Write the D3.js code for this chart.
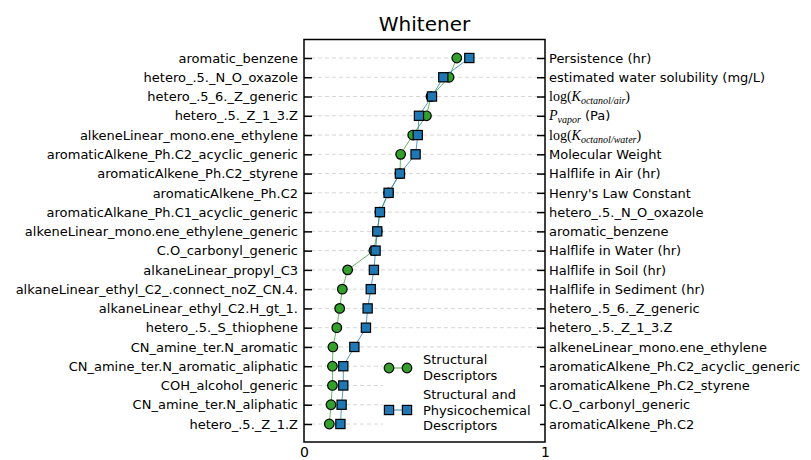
<!DOCTYPE html>
<html>
<head>
<meta charset="utf-8">
<script src="https://cdn.jsdelivr.net/npm/d3@7"></script>
<style>
  body { margin: 0; background: #fff; }
  svg { font-family: "DejaVu Sans", sans-serif; }
</style>
</head>
<body>
<script>
// Подписи слева (дескрипторы), сверху вниз
var leftLabels = [
	"aromatic_benzene",
	"hetero_.5._N_O_oxazole",
	"hetero_.5_6._Z_generic",
	"hetero_.5._Z_1_3.Z",
	"alkeneLinear_mono.ene_ethylene",
	"aromaticAlkene_Ph.C2_acyclic_generic",
	"aromaticAlkene_Ph.C2_styrene",
	"aromaticAlkene_Ph.C2",
	"aromaticAlkane_Ph.C1_acyclic_generic",
	"alkeneLinear_mono.ene_ethylene_generic",
	"C.O_carbonyl_generic",
	"alkaneLinear_propyl_C3",
	"alkaneLinear_ethyl_C2_.connect_noZ_CN.4.",
	"alkaneLinear_ethyl_C2.H_gt_1.",
	"hetero_.5._S_thiophene",
	"CN_amine_ter.N_aromatic",
	"CN_amine_ter.N_aromatic_aliphatic",
	"COH_alcohol_generic",
	"CN_amine_ter.N_aliphatic",
	"hetero_.5._Z_1.Z"
];

// Подписи справа
var rightLabels = [
	"Persistence (hr)",
	"estimated water solubility (mg/L)",
	"logKoa",
	"Pvapor",
	"logKow",
	"Molecular Weight",
	"Halflife in Air (hr)",
	"Henry's Law Constant",
	"hetero_.5._N_O_oxazole",
	"aromatic_benzene",
	"Halflife in Water (hr)",
	"Halflife in Soil (hr)",
	"Halflife in Sediment (hr)",
	"hetero_.5_6._Z_generic",
	"hetero_.5._Z_1_3.Z",
	"alkeneLinear_mono.ene_ethylene",
	"aromaticAlkene_Ph.C2_acyclic_generic",
	"aromaticAlkene_Ph.C2_styrene",
	"C.O_carbonyl_generic",
	"aromaticAlkene_Ph.C2"
];

// Значения
var structural = [0.634, 0.602, 0.527, 0.508, 0.451, 0.401, 0.398, 0.351, 0.315, 0.304,
	0.290, 0.181, 0.159, 0.148, 0.136, 0.120, 0.118, 0.118, 0.112, 0.105];
var physchem = [0.686, 0.578, 0.531, 0.477, 0.472, 0.463, 0.398, 0.351, 0.315, 0.304,
	0.297, 0.290, 0.277, 0.264, 0.257, 0.209, 0.163, 0.163, 0.156, 0.151];

var xTicks = [0, 1];

var green = "#33a02c", blue = "#1f78b4";

var svg = d3.select("body").append("svg")
	.attr("width", 811).attr("height", 460);

var axLeft = 304, axRight = 545, axTop = 39.5, axBottom = 442;

var x = d3.scaleLinear().domain([0, 1]).range([axLeft, axRight]);
var y = d3.scaleLinear().domain([0, leftLabels.length - 1]).range([58, 424]);
var idx = d3.range(leftLabels.length);

// Заголовок
svg.append("text")
	.attr("x", (axLeft + axRight) / 2).attr("y", 31)
	.attr("text-anchor", "middle")
	.attr("font-size", 20)
	.text("Whitener");

// Сетка
svg.append("g").selectAll("line")
	.data(idx)
	.join("line")
	.attr("x1", axLeft).attr("x2", axRight)
	.attr("y1", d => y(d)).attr("y2", d => y(d))
	.attr("stroke", "#d6d6d6")
	.attr("stroke-width", 1)
	.attr("stroke-dasharray", "4,3");

// Левая ось
var axL = svg.append("g")
	.attr("transform", "translate(" + axLeft + ",0)")
	.call(d3.axisLeft(y).tickValues(idx).tickFormat(i => leftLabels[i]).tickSize(-8).tickPadding(6));

// Правая ось
var axR = svg.append("g")
	.attr("transform", "translate(" + axRight + ",0)")
	.call(d3.axisRight(y).tickValues(idx).tickFormat(i => rightLabels[i]).tickSize(-8).tickPadding(4));

// Нижняя ось
var axB = svg.append("g")
	.attr("transform", "translate(0," + axBottom + ")")
	.call(d3.axisBottom(x).tickValues(xTicks).tickFormat(d3.format("d")).tickSize(0).tickPadding(5));

[axL, axR, axB].forEach(function(ax) {
	ax.select(".domain").remove();
	ax.selectAll(".tick line").attr("stroke", "#000").attr("stroke-width", 1.5);
	ax.selectAll("text").attr("font-size", 13).attr("fill", "#000")
		.attr("font-family", "DejaVu Sans");
});
axB.selectAll("text").attr("font-size", 14);

// Формулы справа
var serif = "Liberation Serif, DejaVu Serif, serif";
axR.selectAll(".tick text").each(function(i) {
	var t = d3.select(this);
	var lab = rightLabels[i];
	if (lab == "logKoa" || lab == "logKow") {
		t.text(null);
		t.append("tspan").attr("font-family", serif).attr("font-size", 14).text("log(");
		t.append("tspan").attr("font-family", serif).attr("font-size", 14).attr("font-style", "italic").text("K");
		t.append("tspan").attr("font-family", serif).attr("font-size", 10).attr("font-style", "italic")
			.attr("dy", 3).text(lab == "logKoa" ? "octanol/air" : "octanol/water");
		t.append("tspan").attr("font-family", serif).attr("font-size", 14).attr("dy", -3).text(")");
	} else if (lab == "Pvapor") {
		t.text(null);
		t.append("tspan").attr("font-family", serif).attr("font-size", 14).attr("font-style", "italic").text("P");
		t.append("tspan").attr("font-family", serif).attr("font-size", 10).attr("font-style", "italic")
			.attr("dy", 3).text("vapor");
		t.append("tspan").attr("dy", -3).text(" (Pa)");
	}
});

// Рамка
svg.append("rect")
	.attr("x", axLeft).attr("y", axTop)
	.attr("width", axRight - axLeft).attr("height", axBottom - axTop)
	.attr("fill", "none").attr("stroke", "#000").attr("stroke-width", 1.5);

var line = d3.line().x(d => x(d[1])).y(d => y(d[0]));

// Структурные дескрипторы
svg.append("path")
	.datum(structural.map((v, i) => [i, v]))
	.attr("d", line)
	.attr("fill", "none").attr("stroke", green).attr("stroke-opacity", 0.75).attr("stroke-width", 1);
svg.append("g").selectAll("circle")
	.data(structural)
	.join("circle")
	.attr("cx", d => x(d)).attr("cy", (d, i) => y(i))
	.attr("r", 4.8)
	.attr("fill", green).attr("stroke", "#000").attr("stroke-width", 1.2);

// Структурные и физико-химические
svg.append("path")
	.datum(physchem.map((v, i) => [i, v]))
	.attr("d", line)
	.attr("fill", "none").attr("stroke", blue).attr("stroke-opacity", 0.75).attr("stroke-width", 1);
svg.append("g").selectAll("rect")
	.data(physchem)
	.join("rect")
	.attr("x", d => x(d) - 4.6).attr("y", (d, i) => y(i) - 4.6)
	.attr("width", 9.2).attr("height", 9.2)
	.attr("fill", blue).attr("stroke", "#000").attr("stroke-width", 1.2);

// Легенда
var legend = svg.append("g");
legend.append("rect")
	.attr("x", 383).attr("y", 348).attr("width", 157).attr("height", 88)
	.attr("fill", "#fff");

var legendItems = [
	{ cy: 368, color: green, shape: "circle", lines: ["Structural", "Descriptors"], y0: 364 },
	{ cy: 410, color: blue, shape: "square", lines: ["Structural and", "Physicochemical", "Descriptors"], y0: 399 }
];

legendItems.forEach(function(it) {
	legend.append("line")
		.attr("x1", 389).attr("x2", 407).attr("y1", it.cy).attr("y2", it.cy)
		.attr("stroke", it.color).attr("stroke-opacity", 0.6).attr("stroke-width", 1.5);
	[389, 407].forEach(function(cx) {
		if (it.shape == "circle") {
			legend.append("circle").attr("cx", cx).attr("cy", it.cy).attr("r", 4.8)
				.attr("fill", it.color).attr("stroke", "#000").attr("stroke-width", 1.2);
		} else {
			legend.append("rect").attr("x", cx - 4.6).attr("y", it.cy - 4.6)
				.attr("width", 9.2).attr("height", 9.2)
				.attr("fill", it.color).attr("stroke", "#000").attr("stroke-width", 1.2);
		}
	});
	it.lines.forEach(function(s, k) {
		legend.append("text")
			.attr("x", 423).attr("y", it.y0 + k * 15.5)
			.attr("font-size", 13)
			.text(s);
	});
});
</script>
</body>
</html>
